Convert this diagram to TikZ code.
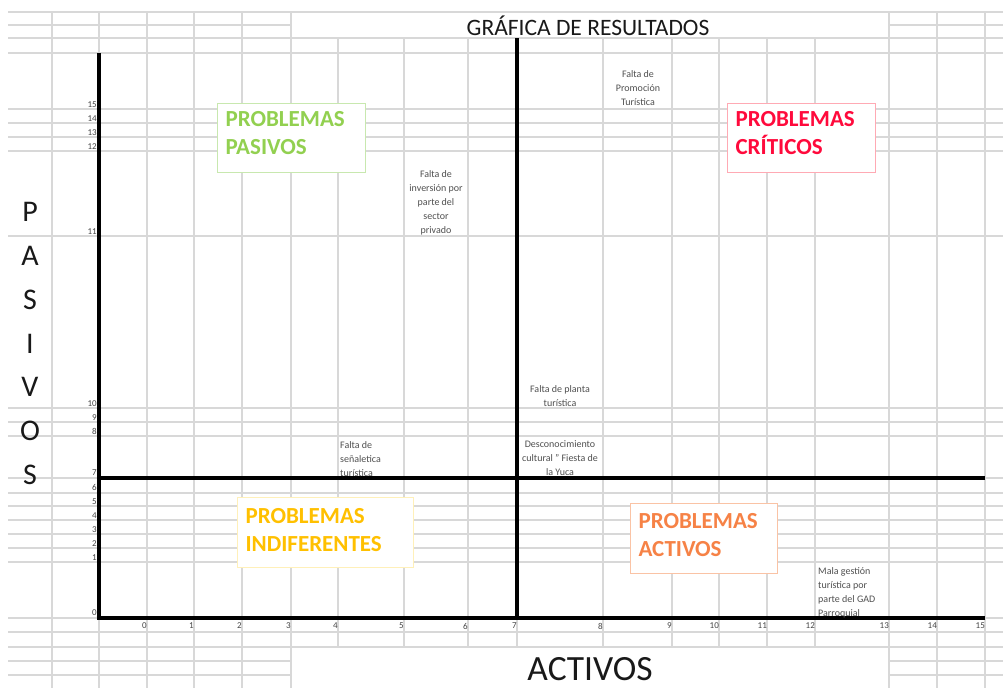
\documentclass[tikz,border=0pt]{standalone}
\usepackage{fontspec}
\setmainfont{Carlito}
\definecolor{gridc}{RGB}{216,216,216}
\definecolor{tickc}{RGB}{70,70,70}
\definecolor{notec}{RGB}{80,80,80}
\definecolor{titc}{RGB}{25,25,25}
\definecolor{pgreen}{RGB}{146,208,80}
\definecolor{pgreenb}{RGB}{200,232,175}
\definecolor{pred}{RGB}{255,10,60}
\definecolor{predb}{RGB}{255,170,180}
\definecolor{pyel}{RGB}{255,192,0}
\definecolor{pyelb}{RGB}{255,240,185}
\definecolor{porg}{RGB}{246,130,70}
\definecolor{porgb}{RGB}{250,195,165}
\begin{document}
\begin{tikzpicture}[x=1pt,y=-1pt,
  gl/.style={draw=gridc,line width=1.3pt},
  ax/.style={draw=black,line width=4.6pt},
  ytick/.style={font=\fontsize{9}{10}\selectfont,text=tickc,inner sep=0pt,anchor=south east},
  xtick/.style={font=\fontsize{9}{10}\selectfont,text=tickc,inner sep=0pt,anchor=east},
  note/.style={font=\fontsize{10}{14}\selectfont,text=notec,inner sep=0pt},
  qbox/.style={draw=#1b,fill=white,line width=1.1pt,text=#1,anchor=north west,
    font=\fontsize{23}{28}\selectfont\bfseries,align=left,inner xsep=8pt,inner ysep=0pt},
  bigt/.style={text=titc,inner sep=0pt}
]
\useasboundingbox (0,0) rectangle (1003,688);
\fill[white] (0,0) rectangle (1003,688);
% horizontal grid lines
\foreach \y in {12,38,53,109,123,137,151,236,408,422,436,478,493,506,520,534,548,562,618,632,647}
  \draw[gl] (8,\y) -- (1003,\y);
\foreach \y in {25,661,675}{
  \draw[gl] (8,\y) -- (291,\y);
  \draw[gl] (889,\y) -- (1003,\y);}
% vertical grid lines
\foreach \x in {52,99,147,194,242,291,889,937,985}
  \draw[gl] (\x,12) -- (\x,688);
\foreach \x in {338,404,468,517,603,672,719,767,815}
  \draw[gl] (\x,38) -- (\x,647);
% axes
\draw[ax] (99,53) -- (99,620.3);
\draw[ax] (96.7,618) -- (985,618);
\draw[ax] (517,38) -- (517,618);
\draw[ax] (99,478) -- (985,478);
% titles
\node[bigt,font=\fontsize{23.5}{25}\selectfont] (title) at (588,26) {GRÁFICA DE RESULTADOS};
\node[bigt,font=\fontsize{35.5}{37}\selectfont] (activos) at (590,669) {ACTIVOS};
\node[bigt,font=\fontsize{30}{43.8}\selectfont,align=center] (pasivos) at (30,343.5) {P\\A\\S\\I\\V\\O\\S};
% y ticks
\node[ytick] (y15) at (97,108) {15};
\node[ytick] (y14) at (97,122) {14};
\node[ytick] (y13) at (97,136) {13};
\node[ytick] (y12) at (97,150) {12};
\node[ytick] (y11) at (97,235) {11};
\node[ytick] (y10) at (97,407) {10};
\node[ytick] (y9) at (97,421) {9};
\node[ytick] (y8) at (97,435) {8};
\node[ytick] (y7) at (97,476) {7};
\node[ytick] (y6) at (97,491) {6};
\node[ytick] (y5) at (97,505) {5};
\node[ytick] (y4) at (97,519) {4};
\node[ytick] (y3) at (97,533) {3};
\node[ytick] (y2) at (97,547) {2};
\node[ytick] (y1) at (97,561) {1};
\node[ytick] (y0) at (97,616) {0};
% x ticks
\node[xtick] (x0) at (147,626) {0};
\node[xtick] (x1) at (194,626) {1};
\node[xtick] (x2) at (242,626) {2};
\node[xtick] (x3) at (291,626) {3};
\node[xtick] (x4) at (338,626) {4};
\node[xtick] (x5) at (404,626) {5};
\node[xtick] (x6) at (468,626) {6};
\node[xtick] (x7) at (517,626) {7};
\node[xtick] (x8) at (603,626) {8};
\node[xtick] (x9) at (672,626) {9};
\node[xtick] (x10) at (719,626) {10};
\node[xtick] (x11) at (767,626) {11};
\node[xtick] (x12) at (815,626) {12};
\node[xtick] (x13) at (889,626) {13};
\node[xtick] (x14) at (937,626) {14};
\node[xtick] (x15) at (985,626) {15};
% notes
\node[note,align=center] (promo) at (638,88.5) {Falta de\\Promoción\\Turística};
\node[note,align=center] (inver) at (436,202.5) {Falta de\\inversión por\\parte del\\sector\\privado};
\node[note,align=center] (planta) at (560,396.5) {Falta de planta\\turística};
\node[note,align=center] (descon) at (560,458) {Desconocimiento\\cultural " Fiesta de\\la Yuca};
\node[note,align=left,anchor=west] (senal) at (340,459) {Falta de\\señaletica\\turística};
\node[note,align=left,anchor=west] (mala) at (818,592.5) {Mala gestión\\turística por\\parte del GAD\\Parroquial};
% quadrant boxes
\node[qbox=pgreen,text width=132pt,text height=23pt,text depth=46pt] (bpas) at (217,103) {PROBLEMAS\\PASIVOS};
\node[qbox=pred,text width=132pt,text height=23pt,text depth=46pt] (bcri) at (727,103) {PROBLEMAS\\CRÍTICOS};
\node[qbox=pyel,text width=160pt,text height=26pt,text depth=44pt] (bind) at (237,497) {PROBLEMAS\\INDIFERENTES};
\node[qbox=porg,text width=131pt,text height=25pt,text depth=45pt] (bact) at (630,503) {PROBLEMAS\\ACTIVOS};
\end{tikzpicture}
\end{document}
